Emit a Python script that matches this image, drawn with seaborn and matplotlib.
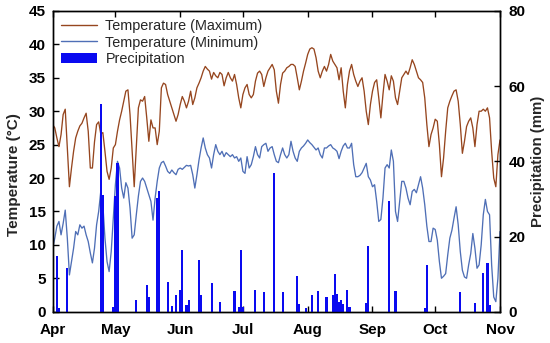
import matplotlib
matplotlib.use("Agg")
import matplotlib.pyplot as plt
import seaborn as sns
import numpy as np
import pandas as pd
from matplotlib.lines import Line2D
from matplotlib.patches import Patch

# ---------------- data ----------------
month_labels = ["Apr", "May", "Jun", "Jul", "Aug", "Sep", "Oct", "Nov"]
month_start_days = [0, 30, 61, 91, 122, 153, 183, 214]   # days since Apr 1

temp_max = [
    28, 27.5, 26, 24.7, 26.5, 29.5, 30.3, 24.5, 18.7, 21.5,
    24, 26, 27, 27.8, 28.2, 29, 29.7, 27, 21.5, 21.5,
    25.4, 28, 28.4, 26.6, 26.8, 24, 21, 19.8, 21.5, 24.5,
    25, 27, 28.7, 30, 31.5, 33, 33.2, 29.5, 24, 18.7,
    24.5, 30.5, 31.7, 31.5, 32.2, 29, 25.5, 28.7, 27.5, 27.5,
    25, 27, 33.5, 34.2, 34, 32.5, 31.5, 30.5, 29.5, 28.5,
    29.5, 31, 32.2, 31.5, 30.5, 31.5, 33, 31, 32, 33.5,
    34.2, 35, 36, 36.7, 36.3, 36, 34.8, 35.8, 35.3, 35,
    35.8, 35.5, 33.8, 35, 35.8, 35, 34.5, 35.5, 34, 32,
    30.5, 32.5, 33.5, 34, 32.5, 32, 32.5, 34.5, 35.7, 36,
    35.5, 33.7, 35, 36, 36.5, 37, 36.2, 33, 31.2, 34,
    35.7, 36, 36.5, 36.7, 37, 37, 36.7, 35, 33.2, 34.5,
    36, 37.2, 38.5, 39.3, 39.5, 39.3, 38, 36, 35, 36,
    36.7, 36, 37, 38.5, 37.5, 37, 36.5, 34.7, 36.5, 33,
    30.5, 34, 36, 37, 35.5, 34.5, 33.7, 34.5, 35, 33,
    30, 28, 31, 33, 34.3, 34.7, 32, 29, 32.5, 35.5,
    34.5, 33.2, 35.3, 34.5, 32, 31, 33, 35, 35.5, 36,
    35.5, 36.5, 37.7, 37, 36, 35, 34.7, 34.3, 32, 28,
    24.7, 26.5, 27.5, 28.8, 28.5, 25, 20.2, 23, 27, 30.5,
    31.5, 32.3, 33, 33.2, 31.5, 28, 23.7, 25.5, 27.7, 28.5,
    29, 27.5, 24.7, 28, 30, 30, 30.3, 30, 30.5, 29,
    24, 20, 18.7, 23.5, 25.7,
]

temp_min = [
    9.5, 11, 12.8, 13.5, 11.5, 13.2, 15.2, 11, 5.5, 7.5,
    9.5, 12, 11.5, 13, 12.5, 12.8, 11.5, 10.5, 8.8, 7.3,
    9.5, 13, 15, 18, 16, 11, 7.5, 6, 9, 14,
    19, 22.5, 21.5, 18.5, 17, 19.3, 18.5, 15.5, 11, 11.5,
    14.5, 17.3, 19.5, 20, 19.5, 18.5, 17.5, 16.5, 13.7, 17,
    19.5, 21.5, 22.3, 22.5, 21.8, 21, 20.7, 21.2, 20.8, 20.5,
    21.3, 21.5, 21.3, 21.6, 21.9, 21.8, 21.9, 20.5, 18.5, 20.5,
    22.7, 24.5, 26, 24.5, 23.5, 23, 21.5, 23.5, 25, 24,
    23.5, 24, 23.2, 23.8, 23.5, 23.2, 23.5, 23, 23.2, 22.5,
    23, 21, 20.7, 23.2, 21.5, 22, 23.2, 24.7, 23.5, 23,
    24.7, 25, 25.2, 24, 24.5, 24.7, 23.5, 22.5, 22.3, 23.5,
    24.5, 23.5, 23, 23.5, 25.5, 24, 23, 22.5, 24, 24.5,
    24.8, 25.2, 25.7, 25.3, 25, 24.6, 24.2, 24.5, 23.5, 23,
    24.5, 24.5, 24.8, 25, 24.5, 24.3, 24, 22.9, 24, 24.8,
    25.2, 24.5, 24.5, 25.2, 22, 20.2, 20.2, 20.4, 20.8, 21.5,
    22.2, 20.2, 19.7, 18.7, 19, 16.5, 13.5, 13.8, 17, 21.5,
    22, 21.5, 24.2, 22.5, 15, 13.5, 16.5, 19.5, 19.5, 18.5,
    17, 16, 18, 18.3, 17.8, 19, 20.2, 18.5, 16, 12.8,
    10.5, 10.5, 12.5, 12.3, 10.7, 7.5, 5, 5.3, 5.7, 8.5,
    11, 12.2, 14, 15.7, 13, 9, 6.2, 5.2, 5, 7,
    8.7, 11.7, 9.5, 6.5, 7, 10, 14.5, 16.8, 15, 14.5,
    7, 2.2, 1.5, 5, 12,
]

precip_day = [2, 3, 7, 23, 24, 29, 30, 31, 40, 45, 46, 50, 51, 55, 57, 59,
              61, 62, 64, 65, 70, 71, 76, 80, 87, 89, 90, 91, 97, 101, 106,
              110, 117, 118, 121, 124, 127, 131, 134, 135, 136, 137, 138,
              139, 141, 142, 150, 151, 161, 164, 178, 179, 195, 202, 206,
              208, 209]
precip_mm = [14.7, 1.0, 11.6, 55.3, 31.0, 1.3, 30.7, 39.5, 3.1, 7.2, 4.0,
             30.2, 32.0, 8.0, 1.5, 4.4, 5.9, 16.3, 1.8, 3.0, 13.8, 4.4, 7.7,
             2.6, 5.5, 1.3, 16.5, 1.3, 5.8, 5.3, 37.0, 5.3, 9.5, 2.0, 0.9,
             4.4, 5.6, 4.0, 4.4, 10.0, 4.8, 2.5, 3.0, 2.0, 5.8, 1.2, 2.2,
             17.5, 29.5, 5.5, 0.9, 12.3, 5.3, 2.2, 10.2, 12.9, 1.8]

days = list(range(len(temp_max)))
temp_df = pd.DataFrame({"day": days, "tmax": temp_max, "tmin": temp_min})
rain_df = pd.DataFrame({"day": precip_day, "mm": precip_mm})

# ---------------- style ----------------
sns.set_theme(style="white")
plt.rcParams["font.family"] = ["Liberation Sans", "DejaVu Sans"]

C_MAX = "#96461F"
C_MIN = "#4F6FB6"
C_RAIN = "#0A0AF0"

fig = plt.figure(figsize=(5.5, 3.43), dpi=100)
ax = fig.add_axes([0.0958, 0.0913, 0.8133, 0.8767])
ax2 = ax.twinx()

sns.lineplot(data=temp_df, x="day", y="tmax", ax=ax, color=C_MAX,
             linewidth=0.95, legend=False)
sns.lineplot(data=temp_df, x="day", y="tmin", ax=ax, color=C_MIN,
             linewidth=0.95, legend=False)
sns.histplot(data=rain_df, x="day", weights="mm", discrete=True, shrink=1.0,
             color=C_RAIN, alpha=1, linewidth=0, ax=ax2)

ax.set_xlim(0, 214)
ax.set_ylim(0, 45)
ax2.set_ylim(0, 80)
ax2.set_xlim(0, 214)

ax.set_xticks(month_start_days)
ax.set_xticklabels(month_labels)
ax.set_yticks(np.arange(0, 46, 5))
ax2.set_yticks([0, 20, 40, 60, 80])

ax.set_xlabel("")
ax.set_ylabel("Temperature (°C)", fontsize=11, fontweight="bold")
ax.yaxis.set_label_coords(-0.071, 0.455)
ax2.set_ylabel("Precipitation (mm)", fontsize=10.8, fontweight="bold", labelpad=4)

for a in (ax, ax2):
    for s in a.spines.values():
        s.set_visible(True)
        s.set_color("black")
        s.set_linewidth(1.0)

ax.tick_params(axis="x", direction="in", length=4, width=1, top=True,
               bottom=True, pad=8, labelsize=11, colors="black")
ax.tick_params(axis="y", direction="in", length=4, width=1, left=True,
               right=False, pad=5, labelsize=11, colors="black")
ax2.tick_params(axis="y", direction="in", length=4, width=1, right=True,
                left=False, pad=6, labelsize=11, colors="black")
for lab in ax.get_xticklabels() + ax.get_yticklabels() + ax2.get_yticklabels():
    lab.set_fontweight("bold")

handles = [Line2D([0], [0], color=C_MAX, lw=1.0),
           Line2D([0], [0], color=C_MIN, lw=1.0),
           Patch(facecolor=C_RAIN, edgecolor="none")]
labels = ["Temperature (Maximum)", "Temperature (Minimum)", "Precipitation"]
leg = ax2.legend(handles, labels, loc="upper left", frameon=False,
                 fontsize=10.4, handlelength=2.5, handletextpad=0.6,
                 labelspacing=0.18, borderaxespad=0.2, borderpad=0.35)

fig.savefig("out.png", dpi=100)
